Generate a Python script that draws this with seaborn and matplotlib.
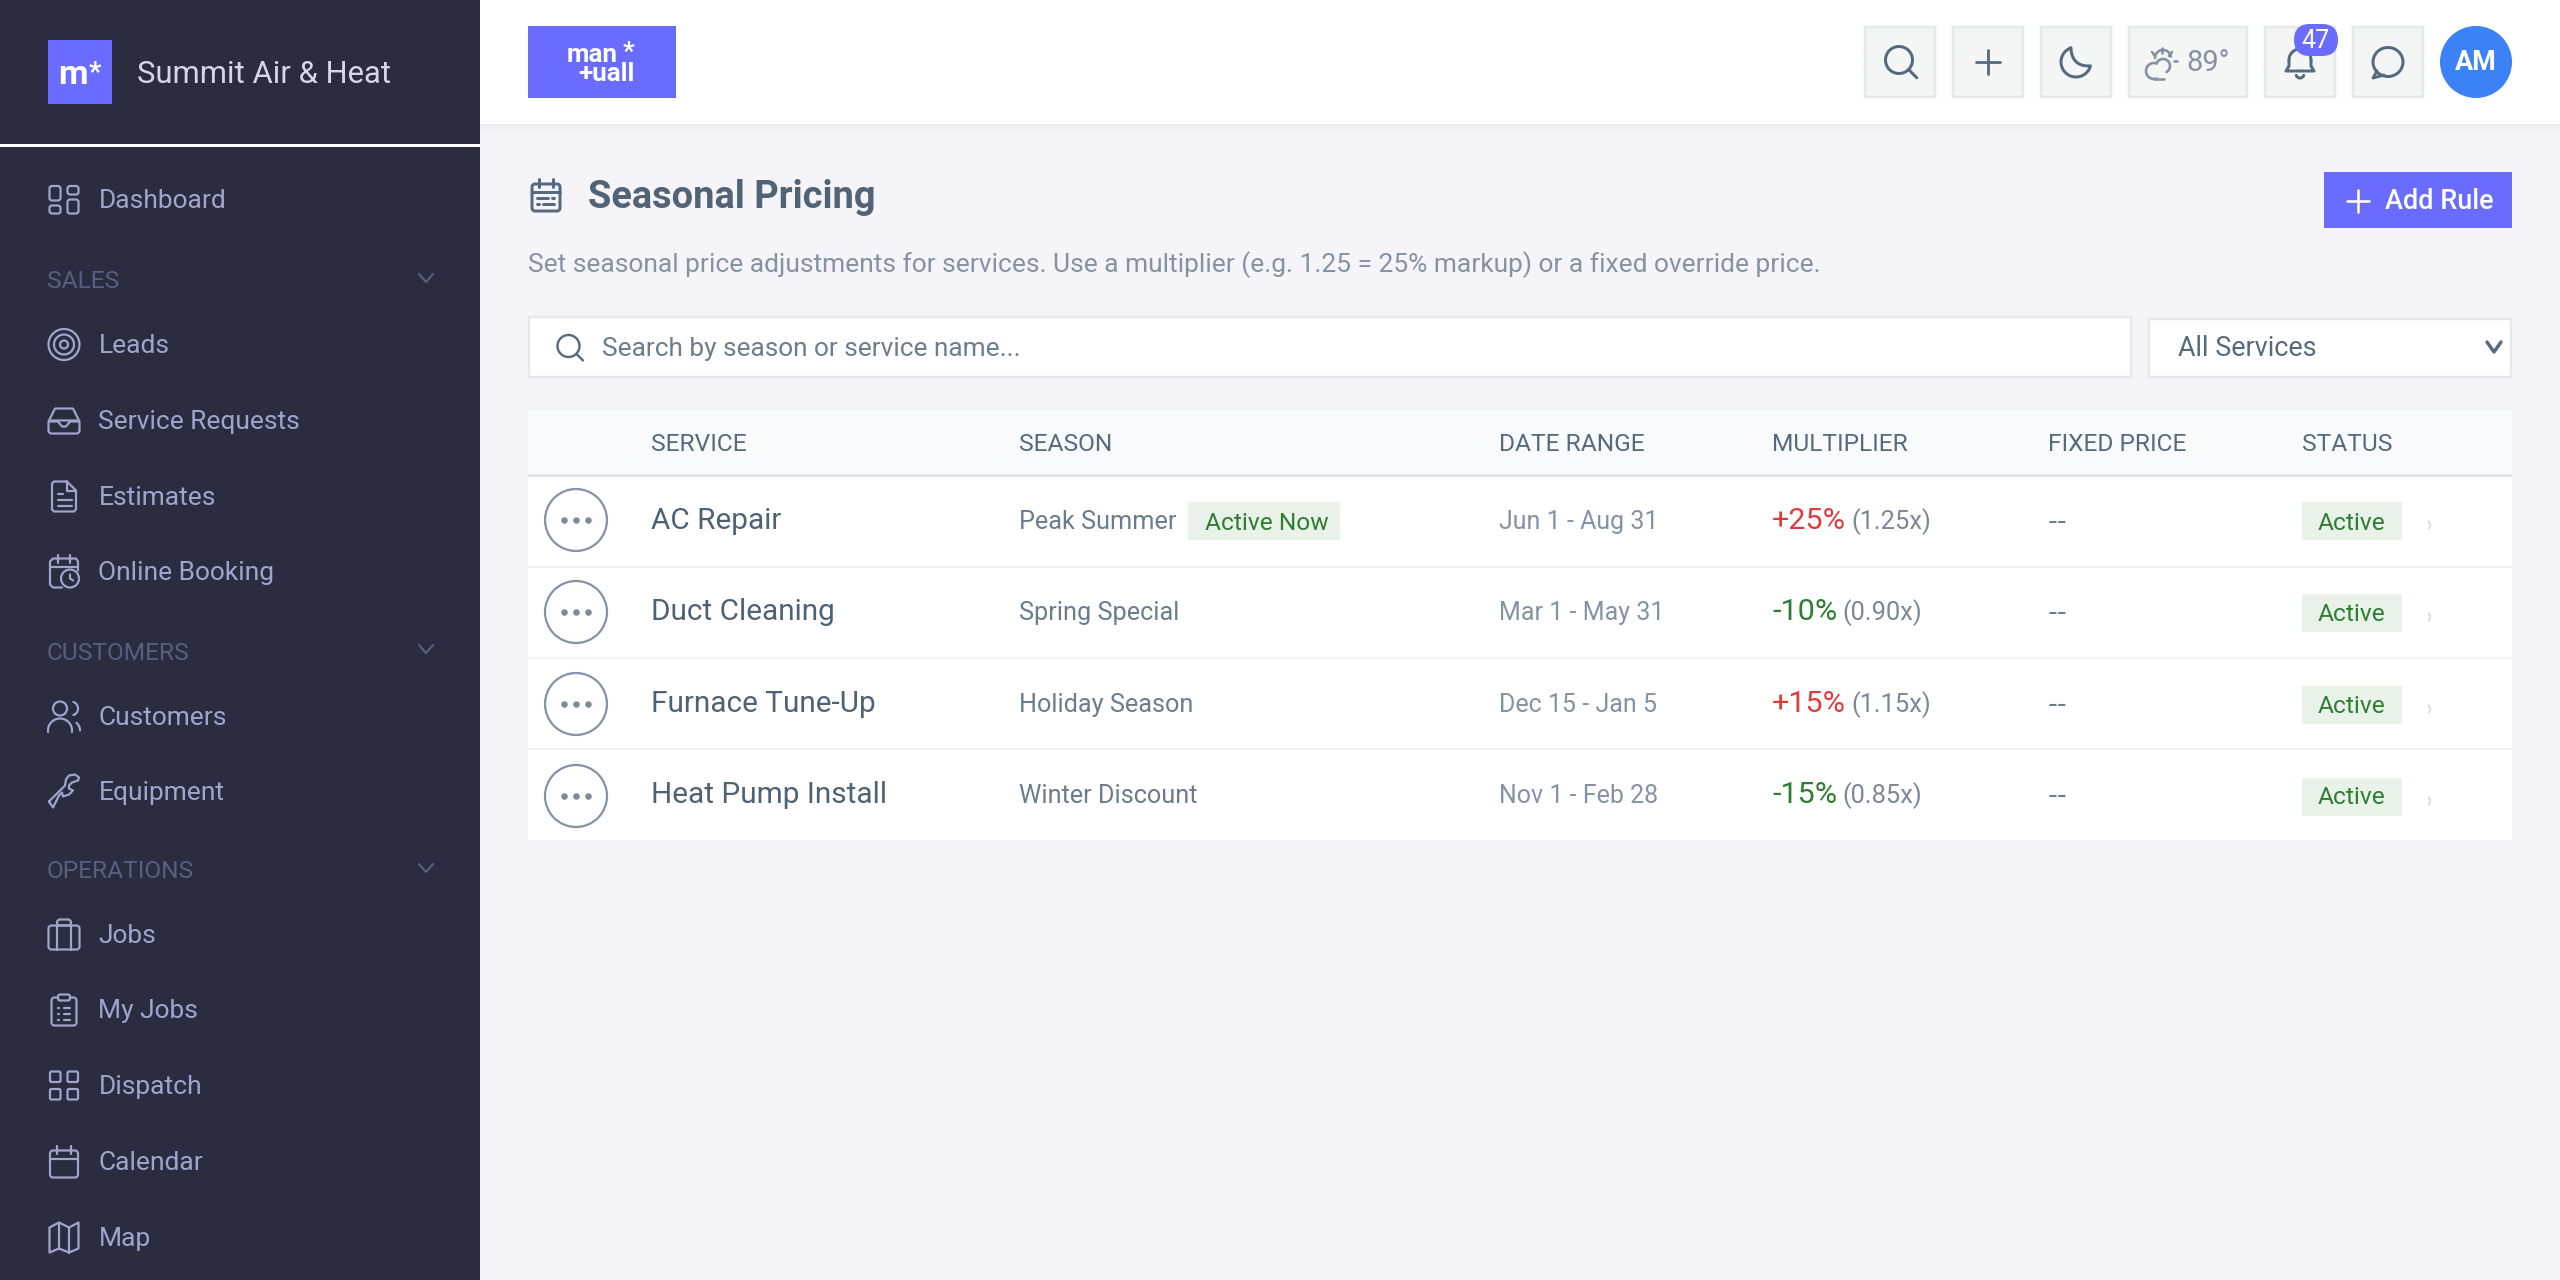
import numpy as np
import matplotlib
matplotlib.use("Agg")
import matplotlib.pyplot as plt
from matplotlib.patches import FancyBboxPatch, Rectangle, Circle, Ellipse, Polygon
import seaborn as sns

# Chart content
NAV_LABELS = ["Dashboard", "Leads", "Service Requests", "Estimates", "Online Booking",
              "Customers", "Equipment", "Jobs", "My Jobs", "Dispatch", "Calendar", "Map"]
SECTION_LABELS = ["SALES", "CUSTOMERS", "OPERATIONS"]
BRAND = "Summit Air & Heat"
PAGE_TITLE = "Seasonal Pricing"
PAGE_NOTE = "Set seasonal price adjustments for services. Use a multiplier (e.g. 1.25 = 25% markup) or a fixed override price."
SEARCH_HINT = "Search by season or service name..."
FILTER_LABEL = "All Services"
HEADERS = ["SERVICE", "SEASON", "DATE RANGE", "MULTIPLIER", "FIXED PRICE", "STATUS"]
SERVICES = ["AC Repair", "Duct Cleaning", "Furnace Tune-Up", "Heat Pump Install"]
SEASONS = ["Peak Summer", "Spring Special", "Holiday Season", "Winter Discount"]
DATE_RANGES = ["Jun 1 - Aug 31", "Mar 1 - May 31", "Dec 15 - Jan 5", "Nov 1 - Feb 28"]
PERCENTS = ["+25%", "-10%", "+15%", "-15%"]
MULTIPLIERS = ["(1.25x)", "(0.90x)", "(1.15x)", "(0.85x)"]
FIXED_PRICES = ["--", "--", "--", "--"]
STATUSES = ["Active", "Active", "Active", "Active"]

# Layout, in screen pixels
NAV_Y = [199, 344, 420, 496, 571, 716, 791, 934, 1009, 1085, 1161, 1237]
SECTION_Y = [280, 651, 870]
COL_X = [651, 1019, 1499, 1772, 2048, 2302]
ROW_TOP = [477, 567, 658, 749]
ROW_MID = [520, 612, 704, 796]
ROW_BASE = [529, 620, 712, 803]

SIDEBAR = "#2b2c40"
PAGE = "#f5f5f9"
BRAND_BLUE = "#696cff"
NAV = "#a3a4cc"
SECTION = "#5c5d7f"
SLATE = "#566a7f"
MUTED = "#8592a3"
GREEN = "#2e7d32"
RED = "#e03b3b"
BADGE = "#e8f2e9"
BORDER = "#e7e8ea"

sns.set_theme(style="white")
plt.rcParams["font.family"] = ["Roboto", "DejaVu Sans"]

fig = plt.figure(figsize=(25.6, 12.8), dpi=100, facecolor=PAGE)
ax = fig.add_axes([0, 0, 1, 1])
ax.set_axis_off()


def text(x, y, s, px, color, weight="normal", ha="left", va="baseline", family=None):
    t = ax.text(x, y, s, fontsize=px * 0.72, color=color, fontweight=weight, ha=ha, va=va, zorder=6)
    if family:
        t.set_family(family)
    return t


def rect(x0, y0, x1, y1, fc, ec="none", lw=0, z=1):
    ax.add_patch(Rectangle((x0, y0), x1 - x0, y1 - y0, facecolor=fc, edgecolor=ec, linewidth=lw * 0.72, zorder=z))


def rr(x0, y0, w, h, r=2.5, c=NAV, lw=2.2, fc="none"):
    ax.add_patch(FancyBboxPatch((x0, y0), w, h, boxstyle=f"round,pad=0,rounding_size={r}",
                                facecolor=fc, edgecolor=c, linewidth=lw * 0.72, zorder=5))


def ln(xs, ys, c=NAV, lw=2.2):
    ax.plot(xs, ys, color=c, lw=lw * 0.72, solid_capstyle="round", solid_joinstyle="round", zorder=5)


def arc(cx, cy, r, a0, a1, c=NAV, lw=2.2):
    t = np.radians(np.linspace(a0, a1, 40))
    ln(cx + r * np.cos(t), cy + r * np.sin(t), c, lw)


def ring(cx, cy, r, c=NAV, lw=2.2):
    ax.add_patch(Circle((cx, cy), r, facecolor="none", edgecolor=c, linewidth=lw * 0.72, zorder=5))


# sidebar and page icons, offsets from the icon centre
def icon_dashboard(x, y):
    rr(x - 14.5, y - 13.5, 11, 14.5)
    rr(x - 14.5, y + 6, 11, 8)
    rr(x + 3.5, y - 13.5, 11, 8.5)
    rr(x + 3.5, y, 11, 14)


def icon_target(x, y):
    ring(x, y, 15.5)
    ring(x, y, 10)
    ring(x, y, 4)


def icon_inbox(x, y):
    ln([x - 15.5, x - 9, x + 9, x + 15.5], [y + 1, y - 12, y - 12, y + 1])
    rr(x - 15.5, y, 31, 13, r=3)
    ln([x - 15, x - 6, x - 2, x + 2, x + 6, x + 15], [y + 1, y + 1, y + 6, y + 6, y + 1, y + 1])


def icon_doc(x, y):
    ln([x + 3, x - 10, x - 12, x - 12, x - 10, x + 10, x + 12, x + 12, x + 3],
       [y - 15, y - 15, y - 13, y + 13, y + 15, y + 15, y + 13, y - 6, y - 15])
    ln([x + 3, x + 3, x + 12], [y - 15, y - 6, y - 6])
    for dy, w in [(-3, 5), (3, 14), (9, 14)]:
        ln([x - 6, x - 6 + w], [y + dy, y + dy])


def icon_cal_clock(x, y):
    ln([x + 14, x + 14, x + 12, x - 11, x - 14, x - 14, x - 11, x - 2],
       [y - 1, y - 10, y - 13, y - 13, y - 10, y + 13, y + 16, y + 16])
    ln([x - 14, x + 14], [y - 5, y - 5])
    ln([x - 6, x - 6], [y - 17, y - 9])
    ln([x + 6, x + 6], [y - 17, y - 9])
    ring(x + 6, y + 7, 9)
    ln([x + 6, x + 6, x + 9], [y + 3, y + 7, y + 9])


def icon_users(x, y):
    ring(x - 4, y - 8, 7)
    arc(x - 4, y + 14, 12, 180, 360)
    ln([x - 16, x - 16], [y + 14, y + 15])
    ln([x + 8, x + 8], [y + 14, y + 15])
    arc(x + 7, y - 8, 7, -70, 70)
    arc(x + 6, y + 14, 10, -50, 0)


def icon_wrench(x, y):
    ln([x - 15, x + 1, x + 2, x + 5, x + 11, x + 15, x + 14, x + 8, x + 5, x + 5, x + 9, x + 5,
        x - 1, x - 2, x - 5, x - 11, x - 15],
       [y + 10, y - 6, y - 12, y - 16, y - 17, y - 14, y - 11, y - 9, y - 6, y - 3, y - 1, y + 3,
        y + 5, y + 1, y + 4, y + 16, y + 10])


def icon_case(x, y):
    rr(x - 15.5, y - 9, 31, 24, r=3)
    ln([x - 7, x - 7], [y - 9, y + 15])
    ln([x + 7, x + 7], [y - 9, y + 15])
    rr(x - 7, y - 15, 14, 6, r=3)


def icon_clip(x, y):
    rr(x - 12.5, y - 12, 25, 28, r=3)
    rr(x - 6, y - 15, 12, 6, r=2, fc=SIDEBAR)
    for dy in (-2, 4, 10):
        ln([x - 6, x - 5.5], [y + dy, y + dy])
        ln([x, x + 6], [y + dy, y + dy])


def icon_grid(x, y):
    for dx in (-14, 3.5):
        for dy in (-14, 3.5):
            rr(x + dx, y + dy, 10.5, 10.5, r=1.5)


def icon_calendar(x, y, c=NAV, lw=2.2):
    rr(x - 14, y - 11, 28, 27, r=3, c=c, lw=lw)
    ln([x - 14, x + 14], [y - 3, y - 3], c, lw)
    ln([x - 7, x - 7], [y - 16, y - 8], c, lw)
    ln([x + 7, x + 7], [y - 16, y - 8], c, lw)


def icon_map(x, y):
    ax.add_patch(Polygon([(x - 14.5, y - 10), (x - 5, y - 15), (x + 5, y - 10), (x + 14.5, y - 15),
                          (x + 14.5, y + 11), (x + 5, y + 15), (x - 5, y + 11), (x - 14.5, y + 15)],
                         closed=True, facecolor="none", edgecolor=NAV, linewidth=1.6, joinstyle="round", zorder=5))
    ln([x - 5, x - 5], [y - 15, y + 11])
    ln([x + 5, x + 5], [y - 10, y + 15])


def icon_search(x, y, r, c, lw=2.6):
    ax.add_patch(Ellipse((x, y), 2 * r, 2 * r, facecolor="none", edgecolor=c, linewidth=lw * 0.72, zorder=5))
    d = r * 0.72
    ln([x + d, x + r * 1.32], [y + d, y + r * 1.32], c, lw)


def chevron(x, y, w, h, c, lw=2.2):
    ln([x - w, x, x + w], [y - h, y + h, y - h], c, lw)


NAV_ICONS = [icon_dashboard, icon_target, icon_inbox, icon_doc, icon_cal_clock, icon_users,
             icon_wrench, icon_case, icon_clip, icon_grid, icon_calendar, icon_map]

# sidebar
rect(0, 0, 480, 1280, SIDEBAR)
rect(0, 144, 480, 146.5, "#ffffff", z=2)
rect(48, 40, 112, 104, BRAND_BLUE, z=2)
text(58, 84, "m", 34, "#ffffff", "bold")
text(89, 81, "*", 27, "#ffffff", "bold")
text(137, 83, BRAND, 31, "#d5d6e6")

for label, y, icon in zip(NAV_LABELS, NAV_Y, NAV_ICONS):
    icon(64, y + 0.5)
    text(98.5, y + 9, label, 26.4, NAV)

for label, y in zip(SECTION_LABELS, SECTION_Y):
    text(47, y + 8.5, label, 24.5, SECTION)
    chevron(426, y - 2, 7, 4, SECTION)

# top bar
for i in range(10):
    rect(480, 124 + i, 2560, 125 + i, "#e9e9ed", z=1.5)
    ax.patches[-1].set_alpha(0.5 * (1 - i / 10))
rect(480, 0, 2560, 124, "#ffffff", z=2)
rect(528, 26, 676, 98, BRAND_BLUE, z=3)
text(567, 61.5, "man", 26, "#ffffff", "bold")
text(623, 60, "*", 26, "#ffffff", "bold")
text(578, 81, "+uall", 26, "#ffffff", "bold")

for x0, x1 in [(1864, 1936), (1952, 2024), (2040, 2112), (2128, 2248), (2264, 2336), (2352, 2424)]:
    rect(x0 + 1, 27, x1 - 1, 97, "#f4f5f5", BORDER, 2.5, z=3)

icon_search(1899, 60, 13.5, SLATE, 3)
ln([1988, 1988], [50, 74], SLATE, 2.8)
ln([1976, 2000], [62, 62], SLATE, 2.8)
# moon, outer arc then a curve back across the bite
t = np.radians(np.linspace(-110, -345, 50))
mx = 2076 + 15 * np.cos(t)
my = 62 + 15 * np.sin(t)
u = np.linspace(0, 1, 20)
bx = (1 - u) ** 2 * mx[-1] + 2 * u * (1 - u) * 2072 + u ** 2 * mx[0]
by = (1 - u) ** 2 * my[-1] + 2 * u * (1 - u) * 67 + u ** 2 * my[0]
ln(np.r_[mx, bx], np.r_[my, by], SLATE, 3)
# weather
cloud = "#8592a3"
arc(2154, 71, 8, 70, 290, cloud, 2.6)
arc(2163, 66, 7, 200, 420, cloud, 2.6)
ln([2154, 2164], [79, 79], cloud, 2.6)
arc(2163, 58, 8, 180, 350, cloud, 2.6)
for x0, y0, x1, y1 in [(2162, 48, 2162, 53), (2152, 52, 2155, 56), (2172, 52, 2169, 56), (2174, 61, 2177, 61)]:
    ln([x0, x1], [y0, y1], cloud, 2.6)
text(2186, 71, "89°", 29, "#8592a3")
# bell
arc(2300, 60, 11, 180, 360, SLATE, 3)
ln([2289, 2289, 2286, 2314, 2311, 2311], [60, 66, 71, 71, 66, 60], SLATE, 3)
arc(2300, 74, 4, 20, 160, SLATE, 3)
ax.add_patch(FancyBboxPatch((2294, 24), 44, 32, boxstyle="round,pad=0,rounding_size=16",
                            facecolor=BRAND_BLUE, edgecolor="none", zorder=5.5))
text(2316, 40.5, "47", 25, "#ffffff", ha="center", va="center")
# chat
t = np.radians(np.linspace(140, 500, 60))
ln(2388 + 15 * np.cos(t), 62 + 14.5 * np.sin(t), SLATE, 3)
ln([2377, 2373, 2384], [71, 78, 75], SLATE, 3)
ax.add_patch(Circle((2476, 62), 36, facecolor="#3b82f6", edgecolor="none", zorder=5))
text(2476, 62.5, "AM", 27, "#ffffff", "bold", ha="center", va="center")

# page head
icon_calendar(546, 195, SLATE, 3)
for x0, x1, dy in [(537, 548, 3), (552, 554, 3), (537, 539, 9), (543, 554, 9)]:
    ln([x0, x1], [195 + dy, 195 + dy], SLATE, 3)
text(588, 208, PAGE_TITLE, 38, "#526375", "bold")
text(528, 272, PAGE_NOTE, 26.45, MUTED)

rect(2324, 172, 2512, 228, BRAND_BLUE, z=3)
ln([2358, 2358], [190, 212], "#ffffff", 2.6)
ln([2347, 2369], [201, 201], "#ffffff", 2.6)
text(2385, 209, "Add Rule", 27, "#ffffff", "medium")

# search and filter
rect(529, 317, 2131, 377, "#ffffff", BORDER, 2.5, z=3)
rect(2149, 319, 2511, 377, "#ffffff", BORDER, 2.5, z=3)
icon_search(568.5, 346, 11, SLATE, 2.4)
text(602, 356, SEARCH_HINT, 26.2, "#6d7d8e")
text(2178, 356, FILTER_LABEL, 27, SLATE)
chevron(2494, 347, 7, 5, SLATE, 3.4)

# table
rect(528, 410, 2512, 840, "#ffffff", z=2)
rect(528, 410, 2512, 475, "#f9fafc", z=2.5)
rect(528, 474, 2512, 477, "#e4e6e8", z=3)
for y in ROW_TOP[1:]:
    rect(528, y - 1.5, 2512, y + 0.5, "#f3f3f6", z=3)

for x, h in zip(COL_X, HEADERS):
    text(x, 451, h, 24.5, SLATE)

# action buttons go through seaborn, one per service row
sns.scatterplot(x=[576] * len(SERVICES), y=ROW_MID, s=(62 * 0.72) ** 2, facecolor="none",
                edgecolor=MUTED, linewidth=1.6, ax=ax, legend=False, zorder=5)
for off in (-12, 0, 12):
    sns.scatterplot(x=[576 + off] * len(SERVICES), y=ROW_MID, s=(6.5 * 0.72) ** 2, color="#7d8a98",
                    linewidth=0, ax=ax, legend=False, zorder=5)

for i, base in enumerate(ROW_BASE):
    text(COL_X[0], base, SERVICES[i], 29.7, "#4f6275")
    text(COL_X[1], base, SEASONS[i], 25.2, "#6b7c8d")
    text(COL_X[2], base, DATE_RANGES[i], 25, MUTED)
    pct = text(COL_X[3], base, PERCENTS[i], 30.5,
               RED if PERCENTS[i].startswith("+") else GREEN)
    ax.annotate(MULTIPLIERS[i], xy=(1, 0), xycoords=pct, xytext=(4, 0), textcoords="offset points",
                fontsize=25.5 * 0.72, color="#7c8896", va="bottom", ha="left", zorder=6)
    text(COL_X[4], base, FIXED_PRICES[i], 27, "#6f7c89", family="DejaVu Sans")
    rect(2302, ROW_MID[i] - 18, 2402, ROW_MID[i] + 20, BADGE, z=3)
    text(2352, base + 1, STATUSES[i], 24.5, GREEN, ha="center")
    ln([2428.5, 2430.5, 2428.5], [ROW_MID[i] + 1, ROW_MID[i] + 5, ROW_MID[i] + 9], "#cfd3d8", 1.4)

rect(1188, ROW_MID[0] - 18, 1340, ROW_MID[0] + 20, BADGE, z=3)
text(1205, ROW_BASE[0] + 1, "Active Now", 24.5, GREEN)

ax.set_xlim(0, 2560)
ax.set_ylim(1280, 0)
fig.savefig("out.png", dpi=100, facecolor=PAGE)
